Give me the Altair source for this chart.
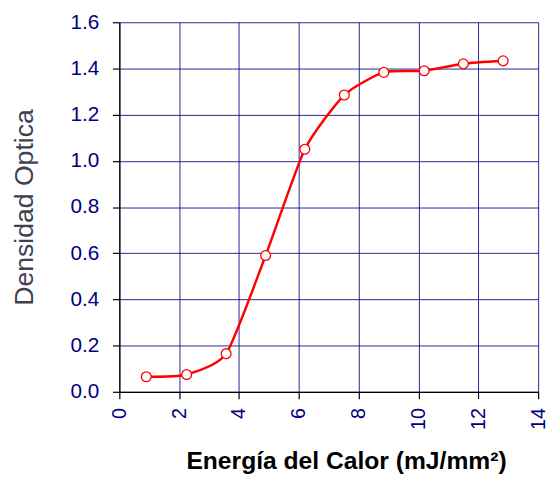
import altair as alt
import pandas as pd

energia = [0.9, 2.25, 3.57, 4.89, 6.2, 7.52, 8.84, 10.19, 11.5, 12.83]
densidad = [0.065, 0.075, 0.165, 0.59, 1.05, 1.285, 1.383, 1.39, 1.42, 1.433]

df = pd.DataFrame({"x": energia, "y": densidad})

FONT = "Liberation Sans"
NAVY = "#000080"

common = dict(labelFont=FONT, titleFont=FONT, labelColor=NAVY,
              grid=True, gridColor=NAVY, gridOpacity=0.85, gridWidth=1,
              domainColor="black", domainWidth=1.2, tickColor="black", tickSize=7,
              tickWidth=1.2)

x = alt.X("x:Q", scale=alt.Scale(domain=[0, 14], nice=False),
          axis=alt.Axis(values=list(range(0, 15, 2)), labelAngle=-90, labelAlign="right",
                        labelBaseline="middle", labelPadding=9, labelFontSize=20,
                        title="Energía del Calor (mJ/mm²)", titleFontWeight="bold",
                        titleFontSize=25, titleColor="black", titlePadding=20,
                        titleX=230, titleAlign="center", **common))
y = alt.Y("y:Q", scale=alt.Scale(domain=[0, 1.6], nice=False),
          axis=alt.Axis(values=[i * 0.2 for i in range(9)], format=".1f", labelPadding=14,
                        labelFontSize=21,
                        title="Densidad Optica", titleFontWeight="normal",
                        titleFontSize=27, titleColor="#404050", titlePadding=32, **common))

line = alt.Chart(df).mark_line(color="red", strokeWidth=2.5, interpolate="cardinal",
                               tension=0.4).encode(x=x, y=y)
pts = alt.Chart(df).mark_point(shape="circle", filled=True, fill="white", stroke="red",
                               strokeWidth=1.3, size=100, opacity=1).encode(x=x, y=y)

chart = (line + pts).properties(
    width=425, height=375, background="white",
    padding={"top": 0, "left": 2, "right": 0, "bottom": 0},
).configure_view(stroke=None)

chart.save("out.html", embed_options={"renderer": "svg", "actions": False})
